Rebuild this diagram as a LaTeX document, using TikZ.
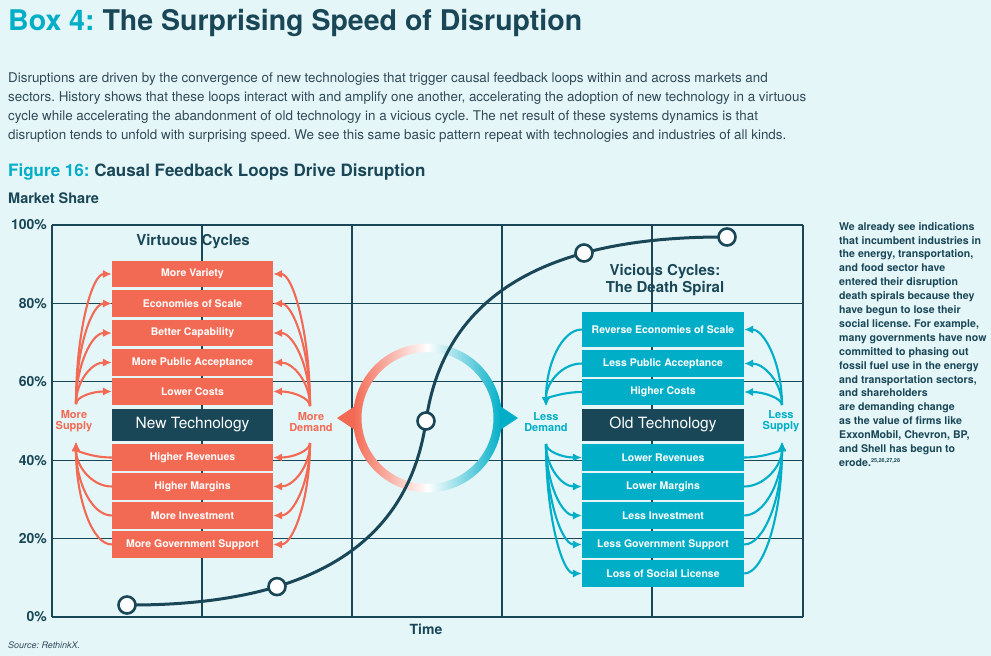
\documentclass[tikz,border=0pt]{standalone}
\usepackage{fontspec}
\setmainfont{TeX Gyre Heros}
\usetikzlibrary{arrows.meta}
\definecolor{bg}{RGB}{229,246,249}
\definecolor{navy}{RGB}{25,71,87}
\definecolor{coral}{RGB}{243,106,84}
\definecolor{tealc}{RGB}{0,174,199}
\definecolor{txt}{RGB}{48,74,87}
\frenchspacing
\begin{document}
\begin{tikzpicture}[x=1pt,y=1pt,
  cbox/.style={fill=coral, minimum width=161pt, minimum height=26.5pt, inner sep=0pt, text=white, font=\bfseries\fontsize{10.5}{12}\selectfont},
  tbox/.style={cbox, fill=tealc, minimum width=162pt},
  techbox/.style={fill=navy, minimum height=32pt, inner sep=0pt, text=white, font=\fontsize{15.5}{18}\selectfont},
  carr/.style={draw=coral, line width=2.1pt, -{Latex[length=9pt,width=8.5pt]}},
  tarr/.style={draw=tealc, line width=2.1pt, -{Latex[length=9pt,width=8.5pt]}},
  gridline/.style={draw=navy, line width=1.3pt},
  sdot/.style={circle, draw=navy, line width=2.6pt, fill=white, minimum size=17pt, inner sep=0pt},
  ylab/.style={anchor=east, inner sep=0pt, text=navy, font=\bfseries\fontsize{14}{16}\selectfont},
  para/.style={anchor=base west, inner sep=0pt, text=txt, font=\fontsize{13.4}{15}\selectfont},
  sdlab/.style={align=center, inner sep=0pt, font=\bfseries\fontsize{11}{11.5}\selectfont},
  heading/.style={anchor=base west, inner sep=0pt, text=navy, font=\bfseries\fontsize{14.5}{16}\selectfont}
]
\fill[bg] (0,0) rectangle (991,-656);
\useasboundingbox (0,0) rectangle (991,-656);

% title and paragraph
\node[anchor=base west, inner sep=0pt, font=\bfseries\fontsize{28.5}{32}\selectfont] (title) at (8,-30)
  {\textcolor{tealc}{Box 4:} \textcolor{navy}{The Surprising Speed of Disruption}};
\node[para] (p1) at (8,-82) {Disruptions are driven by the convergence of new technologies that trigger causal feedback loops within and across markets and};
\node[para] (p2) at (8,-101) {sectors. History shows that these loops interact with and amplify one another, accelerating the adoption of new technology in a virtuous};
\node[para] (p3) at (8,-120) {cycle while accelerating the abandonment of old technology in a vicious cycle. The net result of these systems dynamics is that};
\node[para] (p4) at (8,-139) {disruption tends to unfold with surprising speed. We see this same basic pattern repeat with technologies and industries of all kinds.};
\node[anchor=base west, inner sep=0pt, font=\bfseries\fontsize{17}{20}\selectfont] (fig) at (8,-176)
  {\textcolor{tealc}{Figure 16:} \textcolor{navy}{Causal Feedback Loops Drive Disruption}};
\node[heading] (ms) at (8,-203) {Market Share};

% grid
\foreach \x in {52,202,352,502,652,803} \draw[gridline] (\x,-225) -- (\x,-617);
\foreach \y in {225,303.4,381.8,460.2,538.6,617} \draw[gridline] (52,-\y) -- (803,-\y);
\node[ylab] (y100) at (47,-225) {100\%};
\node[ylab] (y80) at (47,-303.4) {80\%};
\node[ylab] (y60) at (47,-381.8) {60\%};
\node[ylab] (y40) at (47,-460.2) {40\%};
\node[ylab] (y20) at (47,-538.6) {20\%};
\node[ylab] (y0) at (47,-617) {0\%};
\node[inner sep=0pt, text=navy, font=\bfseries\fontsize{14}{16}\selectfont] (time) at (426,-629) {Time};
\node[anchor=base west, inner sep=0pt, text=txt, font=\itshape\fontsize{9}{10}\selectfont] (src) at (8,-648) {Source: RethinkX.};

% ring
\coordinate (rc) at (427.5,-418);
\shade[left color=coral, right color=tealc, middle color=white, even odd rule]
  (rc) circle[radius=74.5] (rc) circle[radius=66];
\fill[coral] (337,-418) -- (355,-406) -- (355,-430) -- cycle;
\fill[tealc] (518,-418) -- (500,-406) -- (500,-430) -- cycle;

% S-curve
\coordinate (p1c) at (127,-605);
\coordinate (p3c) at (426,-421);
\coordinate (p5c) at (727,-237);
\draw[navy, line width=3pt] (p1c) .. controls (327,-606) and (410,-532) .. (p3c)
  .. controls (442,-310) and (525,-236) .. (p5c);
\node[sdot] (c1) at (p1c) {};
\node[sdot] (c2) at (277,-586.6) {};
\node[sdot] (c3) at (p3c) {};
\node[sdot] (c4) at (584,-253) {};
\node[sdot] (c5) at (p5c) {};

% headings
\node[inner sep=0pt, text=navy, font=\bfseries\fontsize{15}{17}\selectfont] (vh) at (193,-242) {Virtuous Cycles};
\node[inner sep=0pt, align=center, text=navy, font=\bfseries\fontsize{15}{17}\selectfont] (dh) at (665,-280.5) {Vicious Cycles:\\The Death Spiral};

% left boxes
\node[cbox] (v1) at (192.5,-274) {More Variety};
\node[cbox] (v2) at (192.5,-303.5) {Economies of Scale};
\node[cbox] (v3) at (192.5,-333) {Better Capability};
\node[cbox] (v4) at (192.5,-362.5) {More Public Acceptance};
\node[cbox] (v5) at (192.5,-391.5) {Lower Costs};
\node[techbox, minimum width=161pt] (nt) at (192.5,-424.5) {New Technology};
\node[cbox] (v7) at (192.5,-457.5) {Higher Revenues};
\node[cbox] (v8) at (192.5,-486.5) {Higher Margins};
\node[cbox] (v9) at (192.5,-515.5) {More Investment};
\node[cbox] (v10) at (192.5,-544.5) {More Government Support};

% right boxes
\node[tbox, minimum height=34.5pt] (r1) at (663,-329.5) {Reverse Economies of Scale};
\node[tbox] (r2) at (663,-363.5) {Less Public Acceptance};
\node[tbox] (r3) at (663,-392) {Higher Costs};
\node[techbox, minimum width=162pt] (ot) at (663,-424.5) {Old Technology};
\node[tbox] (r4) at (663,-457.5) {Lower Revenues};
\node[tbox] (r5) at (663,-486.5) {Lower Margins};
\node[tbox] (r6) at (663,-515.5) {Less Investment};
\node[tbox] (r7) at (663,-544.5) {Less Government Support};
\node[tbox] (r8) at (663,-573.5) {Loss of Social License};

% side labels
\node[sdlab, text=coral] (msl) at (74,-421) {More\\Supply};
\node[sdlab, text=coral] (mdl) at (311,-422) {More\\Demand};
\node[sdlab, text=tealc] (ldl) at (546,-422) {Less\\Demand};
\node[sdlab, text=tealc] (lsl) at (781,-421) {Less\\Supply};
\coordinate (ms1) at (76,-404);
\coordinate (ms2) at (76,-442);
\coordinate (md1) at (310,-406);
\coordinate (md2) at (310,-443);
\coordinate (ld1) at (546,-406);
\coordinate (ld2) at (546,-444);
\coordinate (ls1) at (782,-405);
\coordinate (ls2) at (782,-442);

% left cluster arrows
\foreach \n/\h in {v1/71.5, v2/55.5, v3/39, v4/23, v5/7}
  \draw[carr] (ms1) .. controls +(0,\h) and +(-20,0) .. (\n.west);
\foreach \n/\h in {v7/8.3, v8/24, v9/40, v10/56}
  \draw[carr] (\n.west) .. controls +(-20,0) and +(0,-\h) .. (ms2);
\foreach \n/\h in {v1/72, v2/56, v3/39.6, v4/23.7, v5/7.7}
  \draw[carr] (md1) .. controls +(0,\h) and +(20,0) .. (\n.east);
\foreach \n/\h in {v7/7.7, v8/23.6, v9/39.6, v10/55.6}
  \draw[carr] (md2) .. controls +(0,-\h) and +(20,0) .. (\n.east);

% right cluster arrows
\foreach \n/\h in {r1/41.5, r2/23, r3/7}
  \draw[tarr] (\n.west) .. controls +(-20,0) and +(0,\h) .. (ld1);
\foreach \n/\h in {r4/7, r5/23, r6/39, r7/55, r8/71}
  \draw[tarr] (ld2) .. controls +(0,-\h) and +(-20,0) .. (\n.west);
\foreach \n/\h in {r1/41.5, r2/22.5, r3/6.6}
  \draw[tarr] (ls1) .. controls +(0,\h) and +(20,0) .. (\n.east);
\foreach \n/\h in {r4/8, r5/24, r6/40, r7/56, r8/72}
  \draw[tarr] (\n.east) .. controls +(20,0) and +(0,-\h) .. (ls2);

% side note
\node[anchor=north west, inner sep=0pt, align=left, text=navy, font=\bfseries\fontsize{10.6}{13.9}\selectfont] (note) at (839,-222)
{We already see indications\\
that incumbent industries in\\
the energy, transportation,\\
and food sector have\\
entered their disruption\\
death spirals because they\\
have begun to lose their\\
social license. For example,\\
many governments have now\\
committed to phasing out\\
fossil fuel use in the energy\\
and transportation sectors,\\
and shareholders\\
are demanding change\\
as the value of firms like\\
ExxonMobil, Chevron, BP,\\
and Shell has begun to\\
erode.\textsuperscript{\fontsize{5.5}{6}\selectfont 25,26,27,28}};
\end{tikzpicture}
\end{document}
